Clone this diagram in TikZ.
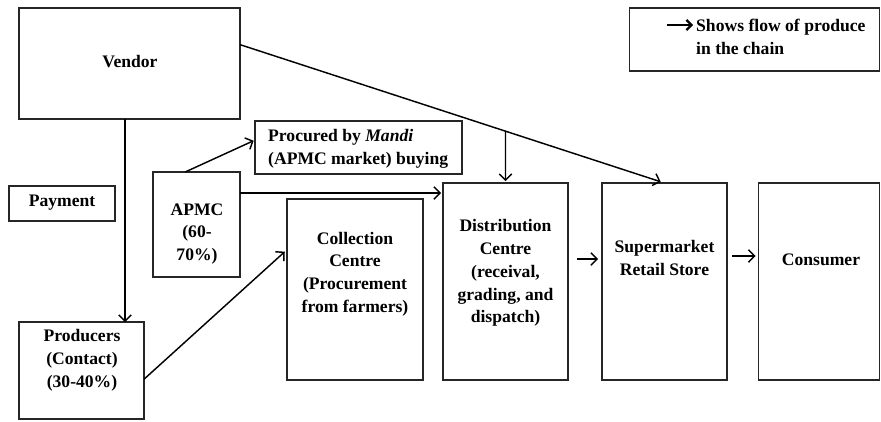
\documentclass[tikz,border=0pt]{standalone}
\usepackage{fontspec}
\setmainfont{Liberation Serif}
\usetikzlibrary{arrows.meta,calc}
\begin{document}
\begin{tikzpicture}[x=1pt,y=-1pt,
  box/.style={draw, line width=1.4pt, rectangle, inner sep=0pt, outer sep=0pt, draw=black!85},
  lbl/.style={font=\fontsize{17.6}{22.8}\selectfont\bfseries, align=center, inner sep=0pt},
  flow/.style={line width=1.45pt, -{Straight Barb[length=6pt,width=12.5pt,line width=1.45pt]}},
]
\useasboundingbox (0,0) rectangle (881,421);
% boxes
\node[box, minimum width=221pt, minimum height=111pt] (vendor) at (129.5,63.5) {};
\node[box, minimum width=250pt, minimum height=63pt] (legend) at (754.5,39.5) {};
\node[box, minimum width=106pt, minimum height=35pt] (pay) at (62,203.5) {};
\node[box, minimum width=207pt, minimum height=53pt] (proc) at (358.5,147.5) {};
\node[box, minimum width=87pt, minimum height=105pt] (apmc) at (196.5,224.5) {};
\node[box, minimum width=125pt, minimum height=97pt] (prod) at (81.5,370.5) {};
\node[box, minimum width=136pt, minimum height=181pt] (coll) at (355,289.5) {};
\node[box, minimum width=125pt, minimum height=197pt] (dist) at (505.5,281.5) {};
\node[box, minimum width=125pt, minimum height=197pt] (super) at (664.5,281.5) {};
\node[box, minimum width=121pt, minimum height=197pt] (cons) at (819,281.5) {};
% texts
\node[lbl] (vendorT) at (130,62) {Vendor};
\node[lbl] (payT) at (62,203) {Payment};
\node[lbl] (prodT) at (82,360) {Producers\\(Contact)\\(30-40\%)};
\node[lbl] (apmcT) at (197,234) {APMC\\(60-\\70\%)};
\node[lbl, anchor=west, align=left] (procT) at (268,148.5) {Procured by \textit{Mandi}\\(APMC market) buying};
\node[lbl] (collT) at (355,274) {Collection\\Centre\\(Procurement\\from farmers)};
\node[lbl] (distT) at (505.5,273) {Distribution\\Centre\\(receival,\\grading, and\\dispatch)};
\node[lbl] (superT) at (664.5,258) {Supermarket\\Retail Store};
\node[lbl] (consT) at (821,260) {Consumer};
\node[lbl, anchor=west, align=left] (legT) at (696,36.5) {Shows flow of produce\\in the chain};
% connectors
\coordinate (pv) at ($(vendor.south)+(-4.5,0)$);
\draw[flow] (pv) -- (pv |- prod.north);
\coordinate (ve) at ($(vendor.north east)!0.33!(vendor.south east)$);
\draw[flow, shorten >=4pt] (ve) -- (super.north);
\path (ve) -- (super.north) coordinate[pos=0.6254] (vm);
\draw[flow, shorten >=2pt] (vm) -- (dist.north);
\draw[flow, shorten >=1.5pt] ($(apmc.north west)!0.37!(apmc.north east)$) -- ($(proc.north west)!0.36!(proc.south west)$);
\coordinate (ae) at ($(apmc.north east)+(0,21)$);
\draw[flow, shorten >=2pt] (ae) -- (ae -| dist.west);
\draw[flow, shorten >=3pt] ($(prod.north east)!0.59!(prod.south east)$) -- ($(coll.north west)!0.28!(coll.south west)$);
\coordinate (ds) at (0,259);
\draw[flow, shorten <=9pt, shorten >=4pt] (dist.east |- ds) -- (super.west |- ds);
\coordinate (sc) at (0,256);
\draw[flow, shorten <=5pt, shorten >=3pt] (super.east |- sc) -- (cons.west |- sc);
\coordinate (legA) at (667,25);
\draw[line width=2.2pt, -{Straight Barb[length=5pt,width=10pt,line width=2.2pt]}, shorten >=3pt] (legA) -- (legA -| legT.west);
\end{tikzpicture}
\end{document}
